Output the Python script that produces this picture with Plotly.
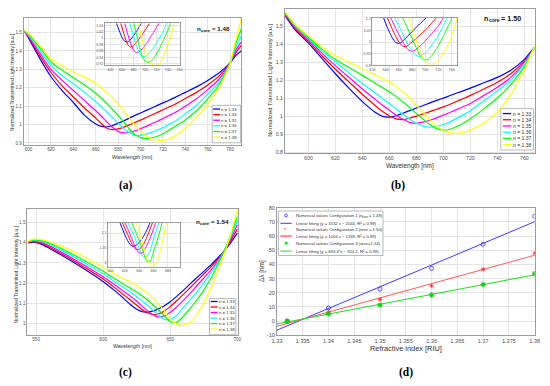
import plotly.graph_objects as go

W, H = 550, 386

series_names = ["n = 1.33", "n = 1.34", "n = 1.35", "n = 1.36", "n = 1.37", "n = 1.38"]
series_colors = ["#0000ff", "#ff0000", "#ff00ff", "#00ffff", "#00ff00", "#ffff00"]

# ---------------- Panel (a): n_core = 1.48 ----------------
wl_a = [596, 600, 610, 620, 630, 640, 650, 660, 665, 670, 675, 680, 685, 690, 695, 700,
        705, 710, 715, 720, 725, 730, 740, 750, 760, 770, 780, 785, 790]
a_133 = [1.51, 1.47, 1.36, 1.26, 1.185, 1.12, 1.05, 1.003, 0.99, 0.988, 0.995, 1.007, 1.02, 1.035, 1.05, 1.063,
         1.077, 1.09, 1.104, 1.118, 1.131, 1.145, 1.175, 1.205, 1.24, 1.28, 1.335, 1.375, 1.40]
a_134 = [1.51, 1.475, 1.375, 1.283, 1.21, 1.15, 1.09, 1.035, 1.005, 0.98, 0.972, 0.976, 0.986, 0.998, 1.011, 1.024,
         1.038, 1.052, 1.066, 1.08, 1.094, 1.108, 1.142, 1.175, 1.215, 1.263, 1.335, 1.39, 1.43]
a_135 = [1.51, 1.48, 1.39, 1.30, 1.24, 1.185, 1.13, 1.075, 1.045, 1.013, 0.985, 0.962, 0.955, 0.958, 0.966, 0.977,
         0.99, 1.004, 1.018, 1.033, 1.048, 1.063, 1.10, 1.14, 1.19, 1.245, 1.335, 1.405, 1.45]
a_136 = [1.51, 1.485, 1.405, 1.32, 1.265, 1.222, 1.175, 1.125, 1.097, 1.068, 1.038, 1.008, 0.978, 0.955, 0.942, 0.942,
         0.948, 0.958, 0.97, 0.984, 0.999, 1.015, 1.058, 1.105, 1.165, 1.228, 1.335, 1.42, 1.48]
a_137 = [1.51, 1.49, 1.42, 1.34, 1.295, 1.255, 1.215, 1.17, 1.143, 1.113, 1.082, 1.05, 1.015, 0.977, 0.945, 0.929,
         0.924, 0.927, 0.936, 0.95, 0.967, 0.986, 1.025, 1.075, 1.14, 1.215, 1.335, 1.44, 1.52]
a_138 = [1.515, 1.495, 1.43, 1.357, 1.32, 1.286, 1.258, 1.224, 1.2, 1.175, 1.146, 1.112, 1.075, 1.035, 0.995, 0.962,
         0.938, 0.922, 0.915, 0.914, 0.92, 0.935, 0.98, 1.04, 1.11, 1.20, 1.33, 1.46, 1.575]

# ---------------- Panel (b): n_core = 1.50 ----------------
wl_b = [583, 590, 600, 610, 620, 630, 640, 645, 650, 655, 660, 665, 670, 675, 680, 685,
        690, 695, 700, 705, 710, 715, 720, 730, 740, 750, 760, 765, 768]
b_133 = [1.555, 1.48, 1.405, 1.32, 1.235, 1.155, 1.08, 1.047, 1.018, 0.998, 0.994, 1.002, 1.016, 1.03, 1.045, 1.059,
         1.073, 1.087, 1.1, 1.114, 1.128, 1.141, 1.155, 1.185, 1.215, 1.255, 1.315, 1.36, 1.385]
b_134 = [1.56, 1.487, 1.415, 1.335, 1.26, 1.19, 1.12, 1.088, 1.055, 1.025, 1.0, 0.984, 0.98, 0.988, 1.0, 1.012,
         1.025, 1.038, 1.051, 1.066, 1.082, 1.098, 1.115, 1.15, 1.188, 1.235, 1.305, 1.355, 1.385]
b_135 = [1.565, 1.495, 1.425, 1.35, 1.28, 1.215, 1.15, 1.12, 1.09, 1.06, 1.032, 1.005, 0.982, 0.965, 0.96, 0.966,
         0.977, 0.99, 1.005, 1.021, 1.037, 1.053, 1.07, 1.115, 1.16, 1.215, 1.295, 1.352, 1.385]
b_136 = [1.57, 1.5, 1.432, 1.362, 1.3, 1.24, 1.18, 1.153, 1.125, 1.097, 1.07, 1.04, 1.01, 0.983, 0.96, 0.944,
         0.938, 0.942, 0.953, 0.968, 0.988, 1.008, 1.03, 1.085, 1.14, 1.2, 1.29, 1.35, 1.385]
b_137 = [1.572, 1.505, 1.438, 1.372, 1.314, 1.27, 1.226, 1.203, 1.18, 1.157, 1.135, 1.108, 1.078, 1.047, 1.015, 0.983,
         0.953, 0.93, 0.922, 0.927, 0.942, 0.962, 0.985, 1.04, 1.1, 1.175, 1.275, 1.345, 1.385]
b_138 = [1.578, 1.51, 1.445, 1.385, 1.336, 1.3, 1.263, 1.245, 1.227, 1.208, 1.19, 1.165, 1.135, 1.1, 1.06, 1.02,
         0.98, 0.945, 0.92, 0.907, 0.905, 0.91, 0.922, 0.962, 1.025, 1.12, 1.26, 1.345, 1.39]

# ---------------- Panel (c): n_core = 1.54 ----------------
wl_c = [544, 548, 555, 560, 570, 580, 590, 600, 610, 615, 620, 625, 630, 635, 640, 645,
        650, 655, 660, 665, 670, 675, 680, 685, 690, 695, 700]
c_133 = [1.4, 1.403, 1.39, 1.372, 1.335, 1.295, 1.252, 1.207, 1.155, 1.125, 1.095, 1.07, 1.056, 1.058, 1.068, 1.085,
         1.107, 1.135, 1.165, 1.197, 1.228, 1.258, 1.288, 1.322, 1.358, 1.4, 1.448]
c_134 = [1.402, 1.406, 1.395, 1.378, 1.342, 1.303, 1.262, 1.22, 1.17, 1.143, 1.117, 1.09, 1.063, 1.046, 1.045, 1.058,
         1.083, 1.113, 1.145, 1.178, 1.212, 1.245, 1.278, 1.315, 1.358, 1.41, 1.468]
c_135 = [1.404, 1.409, 1.4, 1.385, 1.35, 1.312, 1.272, 1.231, 1.185, 1.16, 1.137, 1.11, 1.08, 1.052, 1.033, 1.035,
         1.055, 1.082, 1.115, 1.15, 1.188, 1.225, 1.262, 1.305, 1.358, 1.42, 1.49]
c_136 = [1.406, 1.412, 1.405, 1.392, 1.36, 1.323, 1.285, 1.246, 1.2, 1.178, 1.156, 1.132, 1.106, 1.078, 1.048, 1.022,
         1.019, 1.04, 1.08, 1.118, 1.158, 1.2, 1.248, 1.298, 1.356, 1.43, 1.51]
c_137 = [1.408, 1.414, 1.41, 1.398, 1.368, 1.333, 1.297, 1.259, 1.216, 1.195, 1.176, 1.155, 1.132, 1.105, 1.075, 1.042,
         1.008, 1.005, 1.036, 1.075, 1.117, 1.165, 1.22, 1.285, 1.356, 1.44, 1.53]
c_138 = [1.41, 1.418, 1.415, 1.405, 1.38, 1.35, 1.316, 1.28, 1.24, 1.222, 1.207, 1.187, 1.165, 1.14, 1.105, 1.065,
         1.02, 0.996, 0.99, 1.005, 1.045, 1.1, 1.17, 1.25, 1.34, 1.44, 1.565]

# ---------------- Panel (d): sensitivity ----------------
ri_points = [1.332, 1.34, 1.35, 1.36, 1.37, 1.38]
shift_cfg1 = [0, 9.3, 22.6, 37.2, 54.2, 74.0]
shift_cfg2 = [0, 6.3, 15.3, 24.9, 36.5, 47.9]
shift_cfg3 = [0, 5.1, 11.4, 18.4, 25.8, 33.5]
fit_x = [1.33, 1.38]
fit_cfg1 = [-6.4, 70.2]
fit_cfg2 = [-3.7, 46.5]
fit_cfg3 = [-2.0, 32.7]
# legend texts of panel (d): (text before subscript, subscript, text after subscript)
d_legend = [
    ("Numerical values Configuration 1 (n", "core", "= 1.48)"),
    ("Linear fitting (y = 1532 x \u2212 2044, R\u00b2 = 0.99)", "", ""),
    ("Numerical values Configuration 2 (n", "core", "= 1.50)"),
    ("Linear fitting (y = 1004 x \u2212 1339, R\u00b2 = 0.99)", "", ""),
    ("Numerical values Configuration 3 (n", "core", "=1.54)"),
    ("Linear fitting (y = 693.4*x \u2212 924.2, R\u00b2 = 0.99)", "", ""),
]
ncore_values = ["= 1.48", "= 1.50", "= 1.54"]

# tick labels
a_xt = [600, 620, 640, 660, 680, 700, 720, 740, 760, 780]
a_yt = [0.9, 1.0, 1.1, 1.2, 1.3, 1.4, 1.5]
a_yt_txt = ["0.9", "1", "1.1", "1.2", "1.3", "1.4", "1.5"]
ai_xt = [640, 660, 680, 700, 720, 740, 760]
ai_yt = [0.92, 0.94, 0.96, 0.98, 1.0, 1.02, 1.04]
ai_yt_txt = ["0.92", "0.94", "0.96", "0.98", "1", "1.02", "1.04"]
b_xt = [600, 620, 640, 660, 680, 700, 720, 740, 760]
b_yt = [0.8, 0.9, 1.0, 1.1, 1.2, 1.3, 1.4, 1.5]
b_yt_txt = ["0.8", "0.9", "1", "1.1", "1.2", "1.3", "1.4", "1.5"]
bi_xt = [620, 640, 660, 680, 700, 720, 740]
bi_yt = [0.9, 0.95, 1.0, 1.05, 1.1]
bi_yt_txt = ["0.9", "0.95", "1", "1.05", "1.1"]
c_xt = [550, 600, 650, 700]
c_yt = [1.0, 1.1, 1.2, 1.3, 1.4, 1.5]
c_yt_txt = ["1", "1.1", "1.2", "1.3", "1.4", "1.5"]
ci_xt = [600, 620, 640, 660, 680]
ci_yt = [1.0, 1.05, 1.1]
ci_yt_txt = ["1", "1.05", "1.1"]
d_xt = [1.33, 1.335, 1.34, 1.345, 1.35, 1.355, 1.36, 1.365, 1.37, 1.375, 1.38]
d_xt_txt = ["1.33", "1.335", "1.34", "1.345", "1.35", "1.355", "1.36", "1.365", "1.37", "1.375", "1.38"]
d_yt = [-10, 0, 10, 20, 30, 40, 50, 60, 70, 80]

FONT = "Liberation Sans"

# Liberation Sans (Arial-metric) advance widths per 1000 em, used to place subscripts
ADV = {" ": 278, "N": 722, "u": 556, "m": 833, "e": 556, "r": 333, "i": 222, "c": 500, "a": 556,
       "l": 222, "v": 500, "s": 500, "C": 722, "o": 556, "n": 556, "f": 278, "g": 556, "t": 278,
       "(": 333, ")": 333, "=": 584, ".": 278}
ADV_B = {"n": 611, "c": 556, "o": 611, "r": 389, "e": 556, " ": 278}


def text_width(s, size, bold=False):
    table = ADV_B if bold else ADV
    return sum(table.get(ch, 556) for ch in s) * size / 1000.0


def px(x):
    return x / W


def py(y):
    return 1 - y / H


fig = go.Figure()

panels = [
    (wl_a, [a_133, a_134, a_135, a_136, a_137, a_138], ["", "2"]),
    (wl_b, [b_133, b_134, b_135, b_136, b_137, b_138], ["3", "4"]),
    (wl_c, [c_133, c_134, c_135, c_136, c_137, c_138], ["5", "6"]),
]
for wl, curves, ids in panels:
    for sid in ids:
        for name, col, ys in zip(series_names, series_colors, curves):
            fig.add_trace(go.Scatter(
                x=wl, y=ys, mode="lines", name=name, showlegend=False,
                line=dict(color=col, width=1.2 if sid in ("", "3", "5") else 1.0, shape="spline", smoothing=0.6),
                xaxis="x" + sid, yaxis="y" + sid, hoverinfo="skip"))

# panel d
d_full = ["".join(t) for t in d_legend]
fig.add_trace(go.Scatter(x=fit_x, y=fit_cfg1, mode="lines", line=dict(color="#3b3bff", width=1),
                         xaxis="x7", yaxis="y7", showlegend=False, name=d_full[1]))
fig.add_trace(go.Scatter(x=fit_x, y=fit_cfg2, mode="lines", line=dict(color="#ff5a5a", width=1),
                         xaxis="x7", yaxis="y7", showlegend=False, name=d_full[3]))
fig.add_trace(go.Scatter(x=fit_x, y=fit_cfg3, mode="lines", line=dict(color="#18e018", width=1),
                         xaxis="x7", yaxis="y7", showlegend=False, name=d_full[5]))
fig.add_trace(go.Scatter(x=ri_points, y=shift_cfg1, mode="markers",
                         marker=dict(symbol="circle-open", size=4, color="#3030ff", line=dict(width=0.8)),
                         xaxis="x7", yaxis="y7", showlegend=False, name=d_full[0]))
fig.add_trace(go.Scatter(x=ri_points, y=shift_cfg2, mode="markers",
                         marker=dict(symbol="asterisk-open", size=3.5, color="#ff2020", line=dict(width=0.8, color="#ff2020")),
                         xaxis="x7", yaxis="y7", showlegend=False, name=d_full[2]))
fig.add_trace(go.Scatter(x=ri_points, y=shift_cfg3, mode="markers",
                         marker=dict(symbol="asterisk-open", size=4.5, color="#10d010", line=dict(width=1.1, color="#10d010")),
                         xaxis="x7", yaxis="y7", showlegend=False, name=d_full[4]))


def axis(dom, rng, tv, tt, anchor, fs, grid="#e4e4e4"):
    return dict(domain=dom, range=rng, tickvals=tv, ticktext=tt, anchor=anchor,
                showline=True, mirror=True, linecolor="#9c9c9c", linewidth=0.8,
                showgrid=True, gridcolor=grid, gridwidth=0.6, zeroline=False, ticks="",
                tickfont=dict(family=FONT, size=fs, color="#505050"), fixedrange=True)


def xd(x0, x1):
    return [px(x0), px(x1)]


def yd(y0, y1):
    return [py(y1), py(y0)]


str_list = lambda v: [str(t) for t in v]

layout_axes = dict(
    xaxis=axis(xd(19, 240.7), [595.6, 790], a_xt, str_list(a_xt), "y", 4.6),
    yaxis=axis(yd(15.7, 144), [0.89, 1.577], a_yt, a_yt_txt, "x", 4.6),
    xaxis2=axis(xd(101.7, 178.3), [630.4, 761], ai_xt, str_list(ai_xt), "y2", 3.6),
    yaxis2=axis(yd(20.7, 63.3), [0.915, 1.046], ai_yt, ai_yt_txt, "x2", 3.6),
    xaxis3=axis(xd(285, 540), [582.5, 768], b_xt, str_list(b_xt), "y3", 5.2),
    yaxis3=axis(yd(5.7, 152.7), [0.793, 1.597], b_yt, b_yt_txt, "x3", 5.2),
    xaxis4=axis(xd(374.3, 460.3), [620, 748], bi_xt, str_list(bi_xt), "y4", 3.8),
    yaxis4=axis(yd(15, 63.3), [0.9, 1.104], bi_yt, bi_yt_txt, "x4", 3.8),
    xaxis5=axis(xd(22.7, 237.3), [543.4, 700.5], c_xt, str_list(c_xt), "y5", 4.6),
    yaxis5=axis(yd(209.7, 337), [0.943, 1.566], c_yt, c_yt_txt, "x5", 4.6),
    xaxis6=axis(xd(105, 178.3), [596.8, 696.8], ci_xt, str_list(ci_xt), "y6", 3.6),
    yaxis6=axis(yd(223, 268), [0.986, 1.136], ci_yt, ci_yt_txt, "x6", 3.6),
    xaxis7=axis(xd(277, 539.5), [1.33, 1.38], d_xt, d_xt_txt, "y7", 5.6),
    yaxis7=axis(yd(208, 337.5), [-10, 80], d_yt, str_list(d_yt), "x7", 5.6),
)

annotations = []
shapes = []


def text(x, y, s, size, angle=0, bold=False, family=FONT, color="#333333", xanchor="center"):
    annotations.append(dict(
        x=px(x), y=py(y), xref="paper", yref="paper", text=("<b>%s</b>" % s) if bold else s,
        showarrow=False, textangle=angle, xanchor=xanchor, yanchor="middle",
        borderpad=0, borderwidth=0,
        font=dict(family=family, size=size, color=color)))


def ncore_label(x0, y, size, value):
    # "n" + subscript "core" + " = value", laid out piece by piece
    sub = size * 0.7
    text(x0, y, "n", size, bold=True, color="#111111", xanchor="left")
    x1 = x0 + text_width("n", size, True) + 0.3
    text(x1, y + size * 0.3, "core", sub, bold=True, color="#111111", xanchor="left")
    x2 = x1 + text_width("core", sub, True) + text_width(" ", size, True)
    text(x2, y, value, size, bold=True, color="#111111", xanchor="left")


# axis titles
text(130, 156, "Wavelength [nm]", 5.4)
text(6.5, 80, "Normalized Transmitted Light Intensity [a.u.]", 5.0, angle=-90)
text(412, 166, "Wavelength [nm]", 6.4)
text(270, 79, "Normalized Transmitted Light Intensity [a.u.]", 5.8, angle=-90)
text(130, 348.5, "Wavelength [nm]", 5.2)
text(11, 276, "Normalized Transmitted Light Intensity [a.u.]", 5.0, angle=-90)
text(408, 351, "Refractive index [RIU]", 7.4)
text(262, 272, "\u0394\u03bb [nm]", 6.4, angle=-90)

# n_core labels
ncore_label(196, 26, 6.2, ncore_values[0])
ncore_label(488, 15.5, 7.2, ncore_values[1])
ncore_label(195, 222, 6.2, ncore_values[2])

# panel letters
text(123, 185, "(a)", 11.5, bold=True, family="Liberation Serif", color="#000000")
text(400, 185, "(b)", 11.5, bold=True, family="Liberation Serif", color="#000000")
text(123, 375, "(c)", 11.5, bold=True, family="Liberation Serif", color="#000000")
text(408, 375, "(d)", 11.5, bold=True, family="Liberation Serif", color="#000000")


def legend_box(x0, y0, x1, y1, rows, lx0, lx1, tx, fs):
    shapes.append(dict(type="rect", xref="paper", yref="paper", x0=px(x0), x1=px(x1), y0=py(y1), y1=py(y0),
                       line=dict(color="#9c9c9c", width=0.7), fillcolor="white", layer="above"))
    for yy, name, col in zip(rows, series_names, series_colors):
        shapes.append(dict(type="line", xref="paper", yref="paper", x0=px(lx0), x1=px(lx1), y0=py(yy), y1=py(yy),
                           line=dict(color=col, width=1.3), layer="above"))
        text(tx, yy, name, fs, xanchor="left", color="#333333")


legend_box(211, 104, 240, 142, [107.7, 113.4, 119.1, 124.8, 130.5, 136.2], 212, 219, 220.5, 4.3)
legend_box(505, 107.3, 538.3, 149.3, [112.3, 118.6, 124.9, 131.2, 137.5, 143.8], 507, 515.5, 517, 5.0)
legend_box(208.3, 300.3, 235, 337, [303.2, 308.8, 314.4, 320.0, 325.6, 331.2], 209.5, 216.5, 218, 4.3)

# legend for panel d
shapes.append(dict(type="rect", xref="paper", yref="paper", x0=px(278.5), x1=px(385), y0=py(256.5), y1=py(211.3),
                   line=dict(color="#9c9c9c", width=0.7), fillcolor="white", layer="above"))
d_rows = [215.8, 223.8, 229.8, 236.8, 244.0, 252.0]
shapes.append(dict(type="circle", xref="paper", yref="paper", x0=px(284.8), x1=px(287.6), y0=py(d_rows[0] + 1.4),
                   y1=py(d_rows[0] - 1.4), line=dict(color="#3030ff", width=0.8), layer="above"))
text(286.2, d_rows[2] + 0.4, "*", 6, color="#ff2020")
text(286.2, d_rows[4], "\u2731", 4.5, color="#10d010")
for yy, col, w in [(d_rows[1], "#3b3bff", 1.0), (d_rows[3], "#ff7070", 1.6), (d_rows[5], "#18e018", 1.0)]:
    shapes.append(dict(type="line", xref="paper", yref="paper", x0=px(280.5), x1=px(292), y0=py(yy), y1=py(yy),
                       line=dict(color=col, width=w), layer="above"))
LFS = 4.2
for yy, (pre, sub, post) in zip(d_rows, d_legend):
    text(296, yy, pre, LFS, xanchor="left", color="#333333")
    if sub:
        xs = 296 + text_width(pre, LFS) + 0.4
        text(xs, yy + 1.2, sub, LFS * 0.72, xanchor="left", color="#333333")
        xp = xs + text_width(sub, LFS * 0.72) + 0.4 + (text_width(" ", LFS) if post.startswith("= ") else 0)
        text(xp, yy, post, LFS, xanchor="left", color="#333333")

fig.update_layout(
    width=W, height=H, margin=dict(l=0, r=0, t=0, b=0),
    paper_bgcolor="white", plot_bgcolor="white", showlegend=False,
    annotations=annotations, shapes=shapes, **layout_axes)

fig.write_html("out.html", config={"displayModeBar": False},
               post_script="document.body.style.margin='0px';document.body.style.overflow='hidden';")
